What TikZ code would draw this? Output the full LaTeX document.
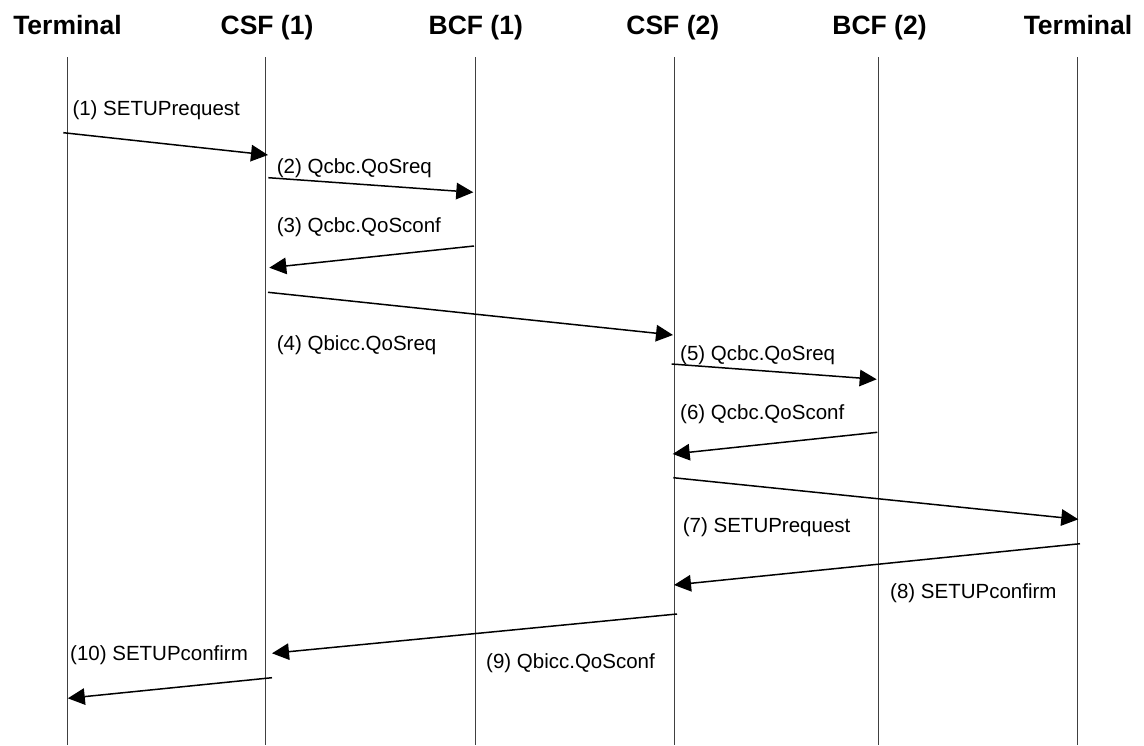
\documentclass[tikz,border=0pt]{standalone}
\usepackage{fontspec}
\setmainfont{Liberation Sans}
\usetikzlibrary{arrows.meta}

\begin{document}
\begin{tikzpicture}[x=1pt,y=-1pt,
	>={Triangle[length=17pt,width=16.5pt]},
	actor/.style={font=\bfseries\fontsize{26.5}{30}\selectfont,anchor=base,inner sep=0pt},
	lifeline/.style={line width=1pt,black!75},
	msg/.style={line width=1.5pt},
	lbl/.style={font=\fontsize{20.5}{24}\selectfont,anchor=base west,inner sep=0pt}]
	\useasboundingbox (0,0) rectangle (1144,745);
	% entities and their lifelines
	\foreach \n/\x/\xt/\t in {term1/67.7/67.5/Terminal, csf1/265.7/267/CSF (1), bcf1/475.8/475.8/BCF (1),
		csf2/674/672.8/CSF (2), bcf2/878.3/879.5/BCF (2), term2/1077.7/1078/Terminal}{
		\node[actor] (\n) at (\xt,34.3) {\t};
		\draw[lifeline] (\x,57) coordinate (\n-top) -- (\x,745) coordinate (\n-bot);
	}
	% message end points
	\coordinate (m1s) at (63.3,132.7);	\coordinate (m1e) at (268,155);
	\coordinate (m2s) at (268.3,177.7);	\coordinate (m2e) at (473.3,192.3);
	\coordinate (m3s) at (474,246);		\coordinate (m3e) at (269.3,267.7);
	\coordinate (m4s) at (268,292.3);	\coordinate (m4e) at (673,335);
	\coordinate (m5s) at (671.7,364);	\coordinate (m5e) at (876.7,379.3);
	\coordinate (m6s) at (877.3,432.3);	\coordinate (m6e) at (672.7,454);
	\coordinate (m7s) at (673.3,477.7);	\coordinate (m7e) at (1078.3,519.3);
	\coordinate (m8s) at (1080,543.7);	\coordinate (m8e) at (674,585);
	\coordinate (m9s) at (677,614);		\coordinate (m9e) at (272,653.3);
	\coordinate (m10s) at (272,677.7);	\coordinate (m10e) at (67.8,698.3);
	\path[->,msg]
		(m1s) edge (m1e)
		(m2s) edge (m2e)
		(m3s) edge (m3e)
		(m4s) edge (m4e)
		(m5s) edge (m5e)
		(m6s) edge (m6e)
		(m7s) edge (m7e)
		(m8s) edge (m8e)
		(m9s) edge (m9e)
		(m10s) edge (m10e);
	% message labels
	\node[lbl] (l1) at (72.3,115) {(1) SETUPrequest};
	\node[lbl] (l2) at (276.7,173.3) {(2) Qcbc.QoSreq};
	\node[lbl] (l3) at (276.7,232.7) {(3) Qcbc.QoSconf};
	\node[lbl] (l4) at (276.7,350) {(4) Qbicc.QoSreq};
	\node[lbl] (l5) at (680,360) {(5) Qcbc.QoSreq};
	\node[lbl] (l6) at (680,419.3) {(6) Qcbc.QoSconf};
	\node[lbl] (l7) at (682.7,532.7) {(7) SETUPrequest};
	\node[lbl] (l8) at (890,598.3) {(8) SETUPconfirm};
	\node[lbl] (l9) at (486,668.3) {(9) Qbicc.QoSconf};
	\node[lbl] (l10) at (70,660) {(10) SETUPconfirm};
\end{tikzpicture}
\end{document}
